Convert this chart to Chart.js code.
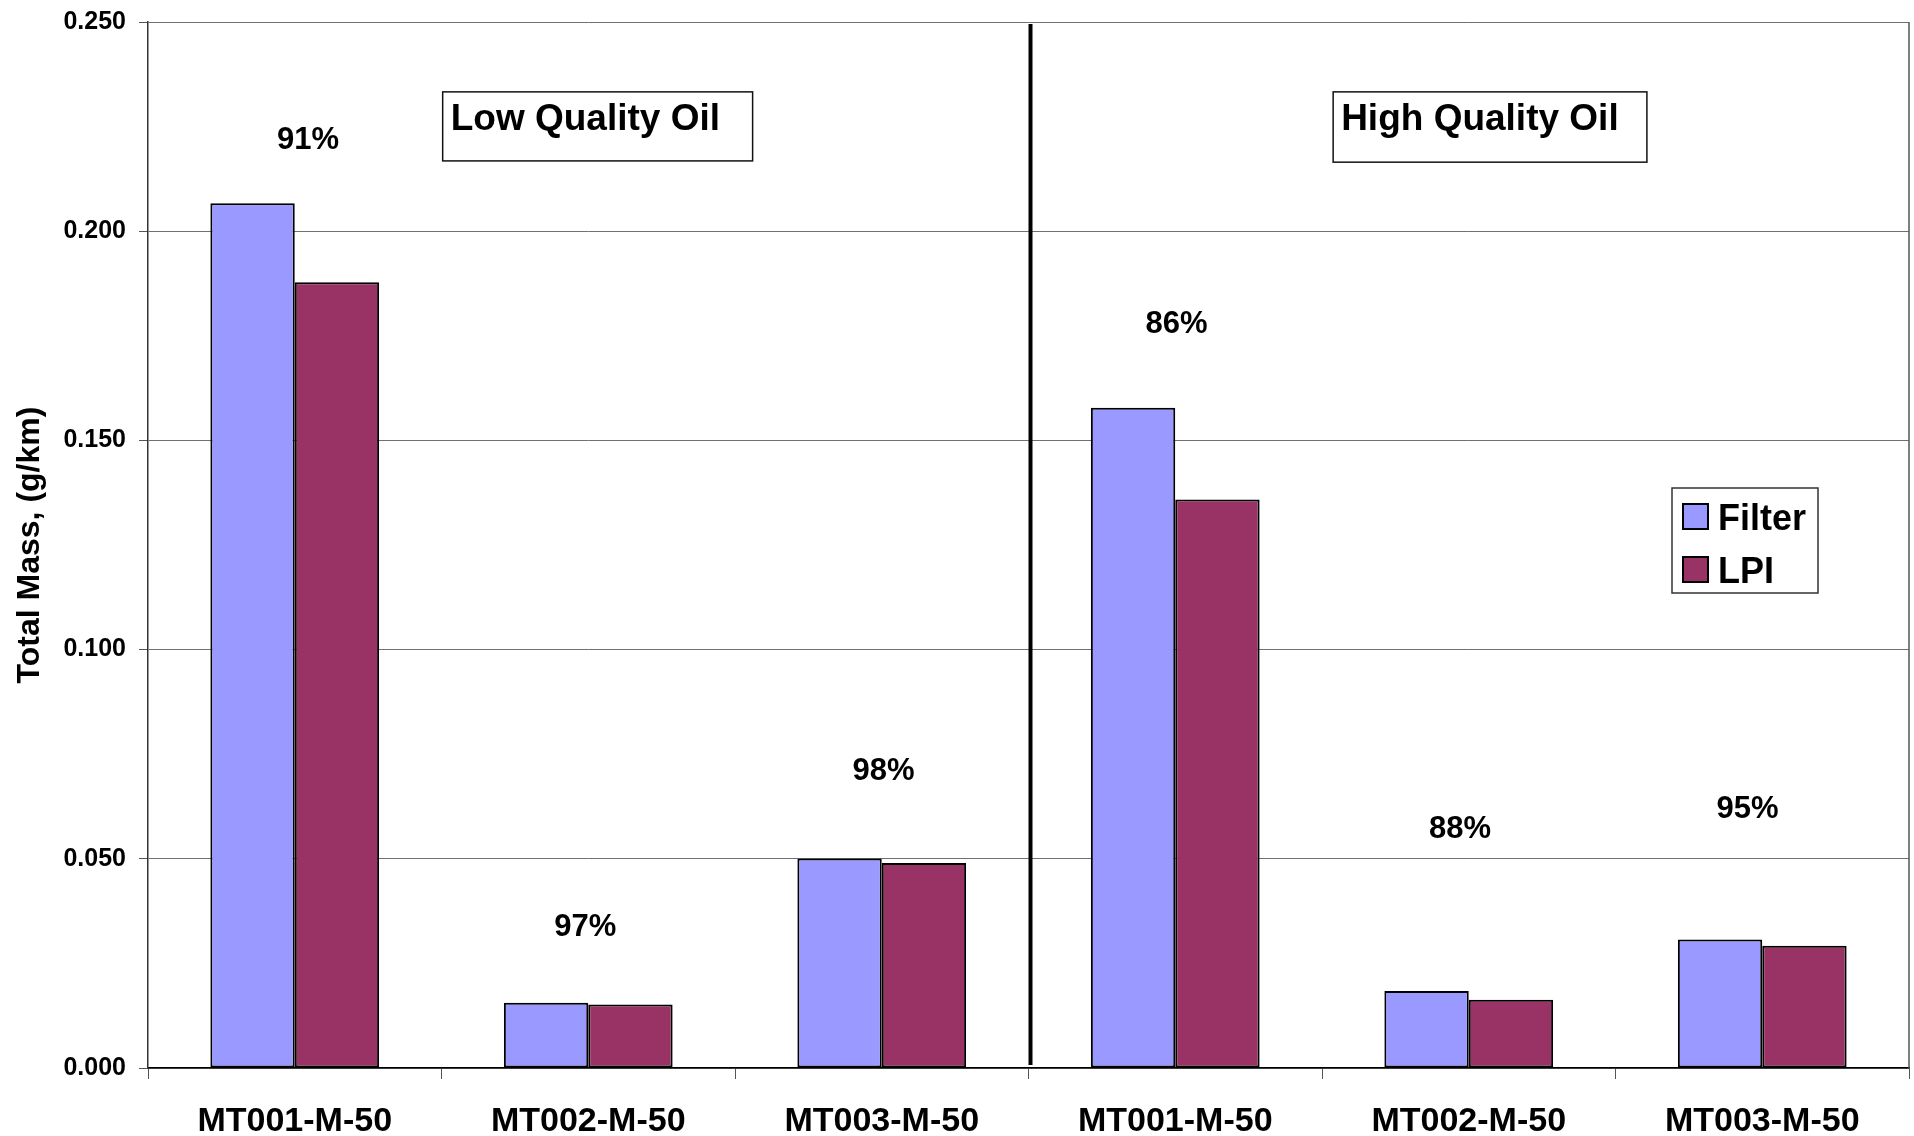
<!DOCTYPE html>
<html>
<head>
<meta charset="utf-8">
<script src="https://cdn.jsdelivr.net/npm/chart.js@4.4.1/dist/chart.umd.min.js"></script>
<style>
  html, body { margin: 0; padding: 0; background: #ffffff; }
  canvas { display: block; }
</style>
</head>
<body>
<canvas id="massChart" width="1914" height="1136"></canvas>
<script>
// Test cycles, first three with the low quality oil, last three with the high quality oil
const categories = ['MT001-M-50', 'MT002-M-50', 'MT003-M-50', 'MT001-M-50', 'MT002-M-50', 'MT003-M-50'];
// Total particulate mass, g/km
const filterMass = [0.2067, 0.0156, 0.0501, 0.1578, 0.0184, 0.0307];
const lpiMass    = [0.1878, 0.0152, 0.0490, 0.1359, 0.0163, 0.0292];
// LPI / Filter agreement per cycle
const ratioLabels = ['91%', '97%', '98%', '86%', '88%', '95%'];
const groupTitles = ['Low Quality Oil', 'High Quality Oil'];
const seriesNames = ['Filter', 'LPI'];
const yTickValues = [0, 0.05, 0.10, 0.15, 0.20, 0.25];

const FONT = '"Liberation Sans", Arial, Helvetica, sans-serif';
const FILTER_COLOR = '#9999FF';
const LPI_COLOR = '#993366';

// Placement of the free text on the plot, in axis units (category index / g/km)
const ratioPlacement = {
  dx: [0.045, -0.01, 0.006, 0.004, -0.03, -0.05],
  y:  [0.2218, 0.0335, 0.0709, 0.1777, 0.0571, 0.0618]
};
const titleBoxes = [
  { x0: 0.504, x1: 1.560, yTop: 0.2333, yBottom: 0.2168 },
  { x0: 3.538, x1: 4.607, yTop: 0.2333, yBottom: 0.2165 }
];

const overlayPlugin = {
  id: 'overlay',
  afterDatasetsDraw(chart) {
    const { ctx, chartArea: area, scales: { x, y } } = chart;
    ctx.save();

    // plot frame (right edge)
    ctx.strokeStyle = '#555555';
    ctx.lineWidth = 1.5;
    ctx.beginPath();
    ctx.moveTo(area.right, area.top);
    ctx.lineTo(area.right, area.bottom);
    ctx.stroke();

    // divider between the two oil groups
    const divX = (x.getPixelForValue(2) + x.getPixelForValue(3)) / 2 + 2;
    ctx.strokeStyle = '#000000';
    ctx.lineWidth = 4;
    ctx.beginPath();
    ctx.moveTo(divX, area.top + 2);
    ctx.lineTo(divX, area.bottom - 3);
    ctx.stroke();

    // group titles in boxes
    ctx.font = 'bold 37px ' + FONT;
    ctx.textAlign = 'left';
    ctx.textBaseline = 'alphabetic';
    titleBoxes.forEach((b, i) => {
      const left = x.getPixelForValue(b.x0);
      const right = x.getPixelForValue(b.x1);
      const top = y.getPixelForValue(b.yTop);
      const bottom = y.getPixelForValue(b.yBottom);
      ctx.fillStyle = '#ffffff';
      ctx.fillRect(left, top, right - left, bottom - top);
      ctx.strokeStyle = '#111111';
      ctx.lineWidth = 1.5;
      ctx.strokeRect(left, top, right - left, bottom - top);
      ctx.fillStyle = '#000000';
      ctx.fillText(groupTitles[i], left + 8, top + 38);
    });

    // agreement percentages
    ctx.font = 'bold 31px ' + FONT;
    ctx.textAlign = 'center';
    ctx.textBaseline = 'middle';
    ctx.fillStyle = '#000000';
    ratioLabels.forEach((t, i) => {
      const px = x.getPixelForValue(i + ratioPlacement.dx[i]);
      const py = y.getPixelForValue(ratioPlacement.y[i]);
      ctx.fillText(t, px, py);
    });

    // legend
    const lgLeft = 1672, lgTop = 488, lgW = 146, lgH = 105;
    ctx.fillStyle = '#ffffff';
    ctx.fillRect(lgLeft, lgTop, lgW, lgH);
    ctx.strokeStyle = '#333333';
    ctx.lineWidth = 1.5;
    ctx.strokeRect(lgLeft, lgTop, lgW, lgH);
    ctx.font = 'bold 36px ' + FONT;
    ctx.textAlign = 'left';
    ctx.textBaseline = 'alphabetic';
    chart.data.datasets.forEach((ds, i) => {
      const sy = lgTop + 16 + i * 53;
      ctx.fillStyle = ds.backgroundColor;
      ctx.fillRect(lgLeft + 11, sy, 25, 25);
      ctx.strokeStyle = '#000000';
      ctx.lineWidth = 2;
      ctx.strokeRect(lgLeft + 11, sy, 25, 25);
      ctx.fillStyle = '#000000';
      ctx.fillText(ds.label, lgLeft + 46, sy + 26);
    });

    // y axis title
    ctx.translate(30, (area.top + area.bottom) / 2);
    ctx.rotate(-Math.PI / 2);
    ctx.font = 'bold 32px ' + FONT;
    ctx.textAlign = 'center';
    ctx.textBaseline = 'middle';
    ctx.fillText('Total Mass, (g/km)', 0, 0);

    ctx.restore();
  }
};

new Chart(document.getElementById('massChart'), {
  type: 'bar',
  data: {
    labels: categories,
    datasets: [
      {
        label: seriesNames[0],
        data: filterMass,
        backgroundColor: FILTER_COLOR,
        borderColor: '#000000',
        borderWidth: 2,
        borderSkipped: false
      },
      {
        label: seriesNames[1],
        data: lpiMass,
        backgroundColor: LPI_COLOR,
        borderColor: '#000000',
        borderWidth: 2,
        borderSkipped: false
      }
    ]
  },
  options: {
    responsive: false,
    animation: false,
    devicePixelRatio: 1,
    layout: { padding: { top: 22, right: 5, left: 0, bottom: 0 } },
    datasets: {
      bar: { categoryPercentage: 0.575, barPercentage: 1.0 }
    },
    plugins: {
      legend: { display: false },
      tooltip: { enabled: false }
    },
    scales: {
      x: {
        afterFit(scale) {
          scale.height = 68;
          scale.paddingLeft = 0;
          scale.paddingRight = 0;
        },
        grid: {
          drawOnChartArea: false,
          drawTicks: true,
          tickLength: 11,
          tickColor: '#555555',
          offset: true
        },
        border: { color: '#000000', width: 1.5 },
        ticks: {
          color: '#000000',
          font: { family: FONT, size: 34, weight: 'bold' },
          padding: 22,
          maxRotation: 0,
          autoSkip: false
        }
      },
      y: {
        min: 0,
        max: 0.25,
        afterFit(scale) {
          scale.width = 148;
          scale.paddingTop = 0;
          scale.paddingBottom = 0;
        },
        afterBuildTicks(scale) { scale.ticks = yTickValues.map(v => ({ value: v })); },
        grid: {
          color: '#707070',
          lineWidth: 1,
          tickLength: 9,
          tickColor: '#555555'
        },
        border: { color: '#333333', width: 1.5 },
        ticks: {
          color: '#000000',
          font: { family: FONT, size: 25, weight: 'bold' },
          padding: 13,
          callback: v => Number(v).toFixed(3)
        }
      }
    }
  },
  plugins: [overlayPlugin]
});
</script>
</body>
</html>
